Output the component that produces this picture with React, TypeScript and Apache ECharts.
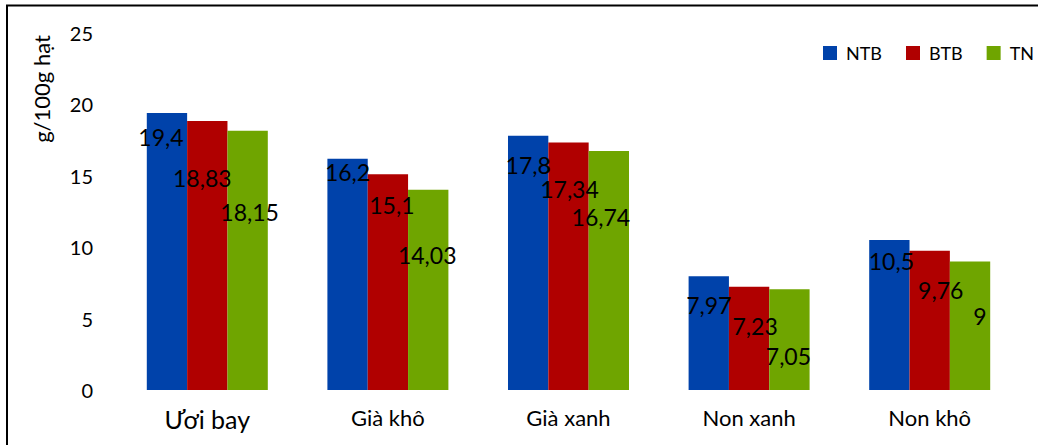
import React, { useEffect, useRef } from "react";
import * as echarts from "echarts";

const categories = ["Ươi bay", "Già khô", "Già xanh", "Non xanh", "Non khô"];
const seriesNames = ["NTB", "BTB", "TN"];
const ntb = [19.4, 16.2, 17.8, 7.97, 10.5];
const btb = [18.83, 15.1, 17.34, 7.23, 9.76];
const tn = [18.15, 14.03, 16.74, 7.05, 9];
const yTicks = [0, 5, 10, 15, 20, 25];
const yAxisTitle = "g/100g hạt";

// label nudges (dx, dy from bar top), layout only
const nudgeNtb = [[-6, 24], [0, 13], [0, 29], [0, 29], [2, 21]];
const nudgeBtb = [[-5, 57], [4, 31], [1, 47], [6, 39], [11, 39]];
const nudgeTn = [[2, 81], [-1, 65], [-8, 66], [-1, 67], [10, 55]];

const colors = ["#0042AA", "#B00000", "#6FA500"];
const FONT = "Lato, 'Open Sans', sans-serif";

const fmt = (v: number) => String(v).replace(".", ",");

export default function App() {
  const ref = useRef<HTMLDivElement>(null);
  useEffect(() => {
    if (!ref.current) return;
    const chart = echarts.init(ref.current, null, { renderer: "svg" });
    const values = [ntb, btb, tn];
    const nudges = [nudgeNtb, nudgeBtb, nudgeTn];
    chart.setOption({
      animation: false,
      backgroundColor: "#ffffff",
      textStyle: { fontFamily: FONT },
      grid: { left: 117, right: 18, top: 33, bottom: 55 },
      legend: {
        data: seriesNames,
        left: 823,
        top: 44,
        padding: 0,
        icon: "rect",
        itemWidth: 14,
        itemHeight: 14,
        itemGap: 24,
        textStyle: {
          fontFamily: FONT,
          fontSize: 18,
          color: "#000",
          width: 38,
          padding: [0, 0, 0, 4],
        },
      },
      xAxis: {
        type: "category",
        data: categories,
        axisLine: { show: false },
        axisTick: { show: false },
        axisLabel: {
          margin: 16,
          fontFamily: FONT,
          fontSize: 22,
          color: "#000",
          formatter: (v: string, i: number) => (i === 0 ? `{big|${v}}` : v),
          rich: { big: { fontFamily: FONT, fontSize: 25, color: "#000" } },
        },
      },
      yAxis: {
        type: "value",
        min: yTicks[0],
        max: yTicks[yTicks.length - 1],
        interval: yTicks[1] - yTicks[0],
        axisLine: { show: false },
        axisTick: { show: false },
        splitLine: { show: false },
        axisLabel: { margin: 24, fontFamily: FONT, fontSize: 20, color: "#000" },
      },
      graphic: [
        {
          type: "rect",
          shape: { x: 7, y: 5.5, width: 1100, height: 500 },
          style: { fill: "none", stroke: "#000", lineWidth: 2 },
          silent: true,
        },
        {
          type: "text",
          x: 41,
          y: 89,
          rotation: Math.PI / 2,
          style: {
            text: yAxisTitle,
            fontFamily: FONT,
            fontSize: 22,
            fill: "#000",
            align: "center",
            verticalAlign: "middle",
          },
        },
      ],
      series: seriesNames.map((name, s) => ({
        name,
        type: "bar",
        barGap: "0%",
        barCategoryGap: "33%",
        itemStyle: { color: colors[s] },
        label: {
          show: true,
          position: "insideTop",
          distance: 0,
          verticalAlign: "middle",
          fontFamily: FONT,
          fontSize: 23,
          color: "#000",
          formatter: (p: any) => fmt(p.value),
        },
        data: values[s].map((v, i) => ({
          value: v,
          label: { offset: nudges[s][i] },
        })),
      })),
    });
    return () => chart.dispose();
  }, []);
  return (
    <div
      ref={ref}
      style={{ position: "fixed", left: 0, top: 0, width: 1038, height: 445 }}
    />
  );
}
